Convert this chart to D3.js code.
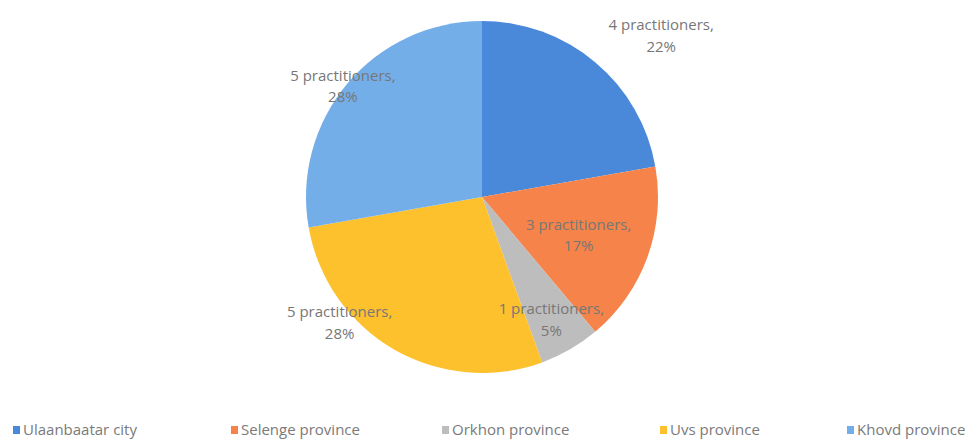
<!DOCTYPE html>
<html>
<head>
<meta charset="utf-8">
<script src="https://cdn.jsdelivr.net/npm/d3@7"></script>
<style>
  html, body { margin: 0; padding: 0; background: #fff; }
  svg { display: block; }
</style>
</head>
<body>
<svg id="chart" width="967" height="439"></svg>
<script>
// Practitioners by region
const regions = ["Ulaanbaatar city", "Selenge province", "Orkhon province", "Uvs province", "Khovd province"];
const practitioners = [4, 3, 1, 5, 5];
const percentLabels = ["22%", "17%", "5%", "28%", "28%"];
const colors = ["#4a88d9", "#f5834a", "#bdbdbd", "#fdc12e", "#74aee9"];

// Label placement per slice: angle nudge (degrees) and distance as a fraction of the radius
const labelPlacement = [
  { nudge: 8, k: 1.37 },
  { nudge: 1.5, k: 0.59 },
  { nudge: 0.5, k: 0.80 },
  { nudge: 18.5, k: 1.08 },
  { nudge: -1.5, k: 1.01 }
];

// Legend item offsets along the bottom row
const legendOffsets = [13, 231, 442, 660, 847];

const width = 967, height = 439;
const cx = 482, cy = 197, radius = 176;
const fontFamily = "'Open Sans', sans-serif";

const svg = d3.select("#chart");

const pie = d3.pie().value(d => d).sort(null);
const arcs = pie(practitioners);
const arc = d3.arc().innerRadius(0).outerRadius(radius);

const g = svg.append("g").attr("transform", `translate(${cx},${cy})`);

g.selectAll("path.slice")
  .data(arcs)
  .join("path")
  .attr("class", "slice")
  .attr("d", arc)
  .attr("fill", (d, i) => colors[i]);

// Data labels: count on the first line, share on the second
const labels = g.selectAll("text.label")
  .data(arcs)
  .join("text")
  .attr("class", "label")
  .attr("text-anchor", "middle")
  .attr("font-family", fontFamily)
  .attr("font-size", 15)
  .attr("fill", "#777777")
  .attr("transform", (d, i) => {
    const p = labelPlacement[i];
    const a = (d.startAngle + d.endAngle) / 2 + p.nudge * Math.PI / 180;
    const r = radius * p.k;
    return `translate(${r * Math.sin(a)},${-r * Math.cos(a)})`;
  });

labels.append("tspan")
  .attr("x", 0)
  .attr("y", -5.5)
  .text(d => `${d.data} practitioners,`);
labels.append("tspan")
  .attr("x", 0)
  .attr("y", 16)
  .text((d, i) => percentLabels[i]);

// Legend
const legend = svg.append("g").attr("transform", "translate(0,430)");
const item = legend.selectAll("g.item")
  .data(regions)
  .join("g")
  .attr("class", "item")
  .attr("transform", (d, i) => `translate(${legendOffsets[i]},0)`);
item.append("rect")
  .attr("x", 0).attr("y", -4)
  .attr("width", 7).attr("height", 8)
  .attr("fill", (d, i) => colors[i]);
item.append("text")
  .attr("x", 10)
  .attr("dy", "0.35em")
  .attr("font-family", fontFamily)
  .attr("font-size", 15)
  .attr("fill", "#7a7a7a")
  .text(d => d);
</script>
</body>
</html>
